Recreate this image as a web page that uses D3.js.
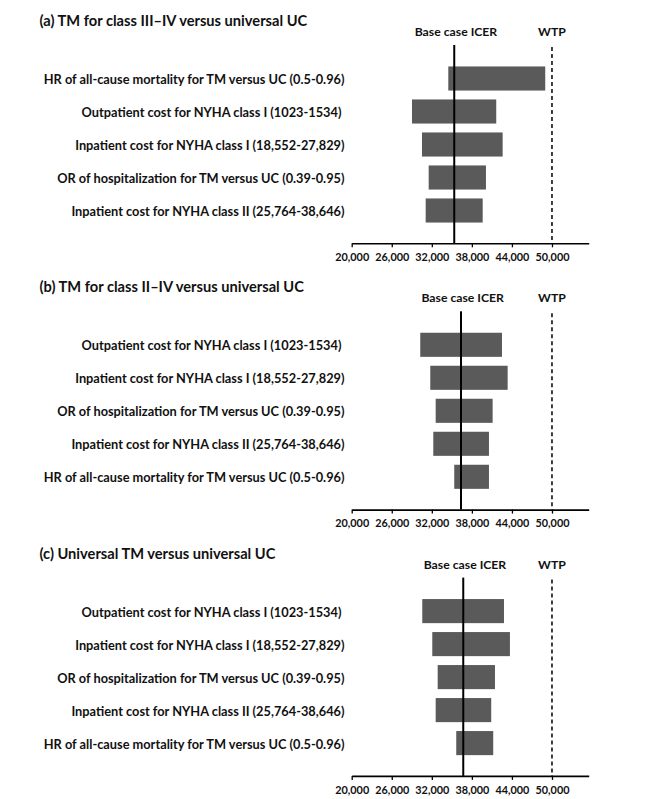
<!DOCTYPE html>
<html>
<head>
<meta charset="utf-8">
<script src="https://cdn.jsdelivr.net/npm/d3@7"></script>
<style>
  html, body { margin: 0; padding: 0; background: #ffffff; }
  text { font-family: Lato, "Open Sans", sans-serif; font-weight: bold; fill: #111; }
</style>
</head>
<body>
<script>
// ---------------- DATA ----------------
const titles = [
  "(a) TM for class III\u2013IV versus universal UC",
  "(b) TM for class II\u2013IV versus universal UC",
  "(c) Universal TM versus universal UC"
];

const categoriesA = [
  "HR of all-cause mortality for TM versus UC (0.5-0.96)",
  "Outpatient cost for NYHA class I (1023-1534) ",
  "Inpatient cost for NYHA class I (18,552-27,829)",
  "OR of hospitalization for TM versus UC (0.39-0.95)",
  "Inpatient cost for NYHA class II (25,764-38,646)"
];
const lowA  = [34470, 29030, 30530, 31530, 31080];
const highA = [48990, 41650, 42610, 40110, 39620];
const baseA = 35360;

const categoriesB = [
  "Outpatient cost for NYHA class I (1023-1534) ",
  "Inpatient cost for NYHA class I (18,552-27,829)",
  "OR of hospitalization for TM versus UC (0.39-0.95)",
  "Inpatient cost for NYHA class II (25,764-38,646)",
  "HR of all-cause mortality for TM versus UC (0.5-0.96)"
];
const lowB  = [30270, 31770, 32580, 32220, 35360];
const highB = [42510, 43360, 41110, 40560, 40560];
const baseB = 36370;

const categoriesC = categoriesB;
const lowC  = [30570, 32070, 32880, 32580, 35660];
const highC = [42810, 43700, 41460, 40900, 41200];
const baseC = 36710;

const wtp = 50000;
const tickValues = [20000, 26000, 32000, 38000, 44000, 50000];
const xDomain = [20000, 55500];

const headerBase = "Base case ICER";
const headerWtp = "WTP";

// ---------------- DRAW ----------------
const W = 666, H = 799;
const svg = d3.select("body").append("svg").attr("width", W).attr("height", H);

function fitSize(str, target, base) {
  base = base || 12;
  const t = svg.append("text").attr("font-size", base).text(str);
  const w = t.node().getComputedTextLength();
  t.remove();
  return base * target / w;
}
const titleSize  = fitSize(titles[0], 268);
const labelSize  = fitSize(categoriesA[0], 301);
const headerSize = fitSize(headerBase, 82.7);
const tickFont   = fitSize("20,000", 34);

const x = d3.scaleLinear().domain(xDomain).range([351.7, 588.7]);

const panels = [
  { title: titles[0], cats: categoriesA, low: lowA, high: highA, base: baseA },
  { title: titles[1], cats: categoriesB, low: lowB, high: highB, base: baseB },
  { title: titles[2], cats: categoriesC, low: lowC, high: highC, base: baseC }
];

const panelStep = 266.3;
const axisY = 243.3;

panels.forEach((p, i) => {
  const g = svg.append("g").attr("transform", `translate(0,${i * panelStep})`);

  // title
  g.append("text")
    .attr("x", 39.5).attr("y", 21).attr("dy", "0.35em")
    .attr("font-size", titleSize)
    .text(p.title);

  const y = d3.scaleBand()
    .domain(p.cats)
    .range([62, 227])
    .paddingInner(0.27)
    .paddingOuter(0.135);

  const rows = p.cats.map((c, k) => ({ cat: c, lo: p.low[k], hi: p.high[k] }));

  // bars
  g.selectAll("rect.bar").data(rows).join("rect")
    .attr("class", "bar")
    .attr("x", d => x(d.lo))
    .attr("width", d => x(d.hi) - x(d.lo))
    .attr("y", d => y(d.cat))
    .attr("height", y.bandwidth())
    .attr("fill", "#5a5a5a");

  // category labels
  g.selectAll("text.cat").data(rows).join("text")
    .attr("class", "cat")
    .attr("x", 344.5)
    .attr("y", d => y(d.cat) + y.bandwidth() / 2 + 1)
    .attr("dy", "0.35em")
    .attr("text-anchor", "end")
    .attr("font-size", labelSize)
    .style("white-space", "pre")
    .text(d => d.cat);

  // axis
  const axis = d3.axisBottom(x)
    .tickValues(tickValues)
    .tickFormat(d3.format(","))
    .tickSizeInner(4)
    .tickSizeOuter(0)
    .tickPadding(6);
  const ag = g.append("g").attr("transform", `translate(0,${axisY})`).call(axis);
  ag.select(".domain").attr("stroke", "#000").attr("stroke-width", 1.6);
  ag.selectAll(".tick line").attr("stroke", "#000").attr("stroke-width", 1.3);
  ag.selectAll(".tick text")
    .attr("font-size", tickFont)
    .attr("font-family", "Lato, 'Open Sans', sans-serif")
    .attr("font-weight", "bold")
    .attr("fill", "#111");

  // base case line
  g.append("line")
    .attr("x1", x(p.base)).attr("x2", x(p.base))
    .attr("y1", 45).attr("y2", axisY)
    .attr("stroke", "#000").attr("stroke-width", 2);

  // WTP dashed line
  g.append("line")
    .attr("x1", x(wtp)).attr("x2", x(wtp))
    .attr("y1", 47).attr("y2", axisY)
    .attr("stroke", "#000").attr("stroke-width", 1.5)
    .attr("stroke-dasharray", "4,3");

  // headers
  g.append("text")
    .attr("x", x(p.base) + 1.7).attr("y", 31.7).attr("dy", "0.35em")
    .attr("text-anchor", "middle")
    .attr("font-size", headerSize)
    .text(headerBase);
  g.append("text")
    .attr("x", x(wtp)).attr("y", 31.7).attr("dy", "0.35em")
    .attr("text-anchor", "middle")
    .attr("font-size", headerSize)
    .text(headerWtp);
});
</script>
</body>
</html>
